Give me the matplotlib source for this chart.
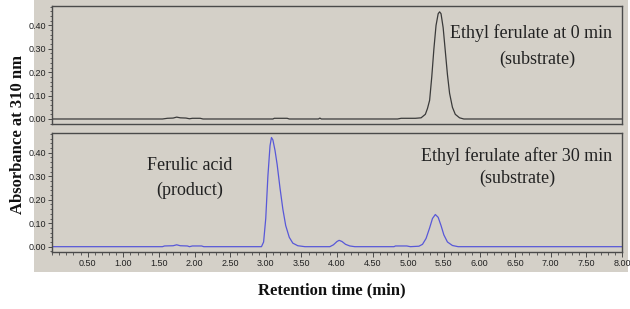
import matplotlib
matplotlib.use("Agg")
import matplotlib.pyplot as plt
from matplotlib.ticker import MultipleLocator
from matplotlib.patches import Rectangle

# ---- data ----
t_substrate_0min = [0.00, 1.55, 1.62, 1.70, 1.75, 1.80, 1.88, 1.93, 1.97, 2.08, 2.12,
                    3.10, 3.12, 3.30, 3.33, 3.74, 3.76, 3.78, 4.85, 4.90, 5.10, 5.18,
                    5.24, 5.27, 5.30, 5.33, 5.36, 5.39, 5.42, 5.44, 5.46, 5.49, 5.52,
                    5.55, 5.58, 5.62, 5.66, 5.72, 5.78, 8.00]
a_substrate_0min = [0.000, 0.000, 0.003, 0.004, 0.008, 0.005, 0.004, 0.001, 0.003, 0.003, 0.000,
                    0.000, 0.003, 0.003, 0.000, 0.000, 0.004, 0.000, 0.000, 0.003, 0.003, 0.005,
                    0.020, 0.045, 0.080, 0.180, 0.300, 0.400, 0.450, 0.458, 0.450, 0.390, 0.290,
                    0.190, 0.110, 0.050, 0.020, 0.005, 0.000, 0.000]

t_after_30min = [0.00, 1.55, 1.58, 1.70, 1.75, 1.80, 1.90, 1.93, 1.97, 2.10, 2.13,
                 2.94, 2.97, 3.00, 3.03, 3.06, 3.08, 3.10, 3.13, 3.16, 3.20, 3.24,
                 3.28, 3.33, 3.38, 3.45, 3.55, 3.90, 3.95, 4.00, 4.03, 4.07, 4.12,
                 4.18, 4.25, 4.80, 4.82, 4.98, 5.03, 5.15, 5.20, 5.25, 5.30, 5.34,
                 5.38, 5.42, 5.46, 5.50, 5.55, 5.62, 5.70, 8.00]
a_after_30min = [0.000, 0.000, 0.003, 0.004, 0.008, 0.004, 0.003, 0.000, 0.003, 0.003, 0.000,
                 0.000, 0.020, 0.120, 0.300, 0.430, 0.465, 0.455, 0.410, 0.350, 0.250, 0.160,
                 0.090, 0.040, 0.015, 0.004, 0.000, 0.000, 0.008, 0.022, 0.027, 0.022, 0.010,
                 0.003, 0.000, 0.000, 0.003, 0.003, 0.000, 0.002, 0.010, 0.035, 0.080, 0.120,
                 0.137, 0.125, 0.090, 0.050, 0.020, 0.005, 0.000, 0.000]

y_ticks = [0.0, 0.1, 0.2, 0.3, 0.4]
x_ticks = [0.5, 1.0, 1.5, 2.0, 2.5, 3.0, 3.5, 4.0, 4.5, 5.0, 5.5, 6.0, 6.5, 7.0, 7.5, 8.0]

x_label = "Retention time (min)"
y_label = "Absorbance at 310 nm"
top_note = ["Ethyl ferulate at 0 min", "(substrate)"]
bottom_note_right = ["Ethyl ferulate after 30 min", "(substrate)"]
bottom_note_left = ["Ferulic acid", "(product)"]

BG = "#d4d0c8"
FRAME = "#4a4a4a"
tick_font = ["Liberation Sans Narrow", "Liberation Sans", "DejaVu Sans"]
serif = ["Liberation Serif", "DejaVu Serif"]

fig = plt.figure(figsize=(6.3, 3.09), dpi=100)
bg = Rectangle((34 / 630, 1 - 272 / 309), (628 - 34) / 630, 272 / 309,
               transform=fig.transFigure, facecolor=BG, edgecolor="none", zorder=-10)
fig.patches.append(bg)

W = 630.0
H = 309.0
left = 52 / W
width = 570 / W
ax1 = fig.add_axes([left, 1 - 124 / H, width, 118 / H])
ax2 = fig.add_axes([left, 1 - 251.7 / H, width, 118.4 / H])

for ax in (ax1, ax2):
    ax.set_zorder(1)
    ax.set_facecolor(BG)
    ax.set_xlim(0, 8.0)
    ax.set_ylim(-0.0214, 0.483)
    for s in ax.spines.values():
        s.set_color(FRAME)
        s.set_linewidth(1.0)
    ax.set_yticks(y_ticks)
    ax.set_yticklabels([f"{v:.2f}" for v in y_ticks], family=tick_font)
    ax.yaxis.set_minor_locator(MultipleLocator(0.02))
    ax.tick_params(axis="y", which="major", length=3, width=0.7, color=FRAME, pad=1,
                   labelsize=6.5, labelcolor="#222222")
    ax.tick_params(axis="y", which="minor", length=1.5, width=0.6, color=FRAME)

ax1.plot(t_substrate_0min, a_substrate_0min, color="#3a3a3a", lw=0.9)
ax1.set_xticks([])
ax1.tick_params(axis="x", which="both", length=0)

ax2.plot(t_after_30min, a_after_30min, color="#5858d8", lw=0.9)
ax2.set_xticks(x_ticks)
ax2.set_xticklabels([f"{v:.2f}" for v in x_ticks], family=tick_font)
ax2.xaxis.set_minor_locator(MultipleLocator(0.1))
ax2.tick_params(axis="x", which="major", length=3.5, width=0.7, color=FRAME, pad=1.5,
                labelsize=6.5, labelcolor="#222222")
ax2.tick_params(axis="x", which="minor", length=2, width=0.6, color=FRAME)

def px(x, y):
    return x / W, 1 - y / H

def note(x, y, s):
    fig.text(*px(x, y), s, ha="center", va="center", family=serif,
             fontsize=13, color="#222222")

note(531, 33, top_note[0])
note(537, 59, top_note[1])
note(517, 156, bottom_note_right[0])
note(517, 178, bottom_note_right[1])
note(190, 166, bottom_note_left[0])
note(190, 190, bottom_note_left[1])

fig.text(*px(18, 134), y_label, rotation=90, ha="center", va="center", family=serif,
         fontsize=12, fontweight="bold", color="#111111")
fig.text(*px(332, 290), x_label, ha="center", va="center", family=serif,
         fontsize=12, fontweight="bold", color="#111111")

fig.savefig("out.png", dpi=100, facecolor="white")
